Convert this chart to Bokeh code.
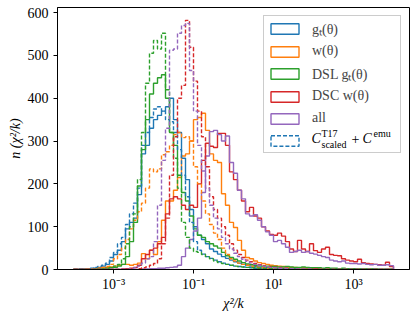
import numpy as np
from bokeh.plotting import figure
from bokeh.models import (Range1d, FixedTicker, SingleIntervalTicker, CustomJSTickFormatter,
                          Legend, LegendItem, Label)
from bokeh.embed import file_html
from bokeh.resources import INLINE

# log10 bin edges of the histograms (80 bins from 1e-4 to 1e4)
LOG_MIN, LOG_MAX, N_BINS = -4, 4, 80

# counts per bin
GT_SOLID = [
    0, 0, 1, 1, 2, 3, 5, 8, 12, 20,
    35, 45, 65, 95, 110, 120, 175, 270, 290, 330,
    350, 360, 370, 380, 400, 350, 320, 260, 210, 140,
    100, 80, 70, 60, 48, 42, 36, 30, 26, 22,
    18, 15, 12, 10, 8, 7, 6, 5, 4, 3,
    3, 2, 2, 1, 1, 1, 0, 0, 0, 0,
    0, 0, 0, 0, 0, 0, 0, 0, 0, 0,
    0, 0, 0, 0, 0, 0, 0, 0, 0, 0,
]
GT_DASH = [
    0, 1, 1, 2, 3, 5, 7, 10, 15, 28,
    40, 60, 75, 105, 130, 155, 190, 290, 320, 355,
    375, 380, 370, 350, 345, 320, 280, 220, 170, 110,
    65, 45, 36, 30, 26, 22, 18, 15, 12, 10,
    8, 7, 6, 5, 4, 3, 3, 2, 2, 1,
    1, 1, 0, 0, 0, 0, 0, 0, 0, 0,
    0, 0, 0, 0, 0, 0, 0, 0, 0, 0,
    0, 0, 0, 0, 0, 0, 0, 0, 0, 0,
]
W_SOLID = [
    0, 0, 0, 0, 1, 2, 3, 4, 5, 6,
    8, 10, 12, 12, 10, 12, 15, 37, 25, 45,
    35, 65, 115, 160, 160, 185, 215, 265, 270, 300,
    350, 355, 365, 325, 270, 255, 250, 177, 150, 110,
    98, 68, 45, 28, 25, 20, 16, 14, 12, 10,
    9, 8, 7, 6, 5, 5, 4, 4, 3, 3,
    3, 2, 2, 1, 1, 1, 1, 0, 0, 0,
    0, 0, 0, 0, 0, 0, 0, 0, 0, 0,
]
W_DASH = [
    0, 0, 0, 1, 1, 2, 3, 5, 7, 12,
    25, 35, 50, 70, 95, 115, 135, 155, 190, 235,
    228, 235, 268, 275, 290, 315, 320, 308, 310, 300,
    240, 200, 160, 130, 105, 85, 70, 50, 35, 25,
    20, 15, 12, 10, 8, 6, 5, 4, 3, 3,
    2, 2, 1, 1, 0, 0, 0, 0, 0, 0,
    0, 0, 0, 0, 0, 0, 0, 0, 0, 0,
    0, 0, 0, 0, 0, 0, 0, 0, 0, 0,
]
DSL_GT_SOLID = [
    0, 0, 0, 0, 0, 1, 1, 2, 3, 4,
    5, 8, 12, 30, 65, 110, 195, 280, 350, 410,
    435, 448, 455, 400, 320, 290, 220, 180, 160, 125,
    95, 80, 75, 65, 60, 55, 50, 40, 32, 28,
    24, 20, 16, 13, 11, 10, 9, 8, 8, 7,
    7, 6, 6, 7, 6, 5, 5, 6, 5, 4,
    4, 4, 3, 4, 3, 3, 2, 3, 2, 2,
    2, 1, 1, 1, 1, 1, 0, 0, 0, 0,
]
DSL_GT_DASH = [
    0, 0, 0, 0, 0, 1, 1, 2, 3, 5,
    8, 12, 25, 60, 100, 130, 210, 320, 435, 505,
    535, 515, 552, 420, 320, 260, 190, 110, 75, 50,
    42, 40, 35, 30, 25, 20, 16, 14, 12, 10,
    8, 7, 6, 5, 4, 4, 3, 3, 2, 2,
    1, 1, 1, 1, 1, 1, 0, 0, 0, 0,
    0, 0, 0, 0, 0, 0, 0, 0, 0, 0,
    0, 0, 0, 0, 0, 0, 0, 0, 0, 0,
]
DSC_W_SOLID = [
    0, 0, 0, 0, 0, 0, 0, 0, 0, 0,
    0, 0, 1, 2, 3, 5, 10, 25, 35, 45,
    50, 60, 75, 130, 165, 170, 165, 150, 140, 150,
    145, 200, 255, 295, 288, 285, 318, 318, 290, 228,
    210, 185, 160, 135, 145, 125, 120, 100, 90, 82,
    80, 85, 78, 65, 48, 42, 68, 48, 42, 60,
    44, 40, 48, 52, 35, 33, 32, 25, 22, 20,
    18, 24, 16, 14, 13, 12, 11, 10, 17, 7,
]
DSC_W_DASH = [
    0, 0, 0, 0, 0, 0, 0, 0, 0, 0,
    0, 0, 0, 0, 0, 0, 2, 4, 6, 10,
    14, 25, 60, 120, 220, 310, 400, 430, 582, 519,
    440, 370, 310, 240, 170, 140, 120, 100, 80, 60,
    45, 35, 28, 22, 18, 14, 11, 9, 7, 6,
    5, 4, 3, 3, 2, 2, 1, 1, 1, 1,
    1, 0, 0, 0, 0, 0, 0, 0, 0, 0,
    0, 0, 0, 0, 0, 0, 0, 0, 0, 0,
]
ALL_SOLID = [
    0, 0, 0, 0, 0, 0, 0, 0, 0, 0,
    0, 0, 0, 0, 0, 0, 0, 1, 1, 2,
    2, 3, 3, 4, 5, 6, 10, 30, 50, 70,
    90, 120, 180, 265, 322, 325, 315, 300, 312, 250,
    225, 185, 165, 130, 125, 128, 115, 100, 88, 80,
    65, 68, 60, 52, 40, 42, 45, 40, 42, 38,
    36, 33, 30, 28, 22, 20, 18, 20, 15, 14,
    14, 13, 14, 12, 11, 12, 10, 10, 11, 9,
]
ALL_DASH = [
    0, 0, 0, 0, 0, 0, 0, 0, 0, 0,
    0, 0, 0, 0, 2, 4, 8, 15, 25, 30,
    65, 150, 255, 330, 512, 515, 552, 570, 575, 465,
    370, 290, 230, 190, 150, 120, 95, 75, 60, 48,
    38, 30, 24, 19, 15, 12, 10, 8, 6, 5,
    4, 3, 3, 2, 2, 1, 1, 1, 1, 1,
    0, 0, 0, 0, 0, 0, 0, 0, 0, 0,
    0, 0, 0, 0, 0, 0, 0, 0, 0, 0,
]

LABELS = ["g\u209c(\u03b8)", "w(\u03b8)", "DSL g\u209c(\u03b8)", "DSC w(\u03b8)", "all"]
COLORS = ["#1f77b4", "#ff7f0e", "#2ca02c", "#d62728", "#9467bd"]
SOLID = [GT_SOLID, W_SOLID, DSL_GT_SOLID, DSC_W_SOLID, ALL_SOLID]
DASHED = [GT_DASH, W_DASH, DSL_GT_DASH, DSC_W_DASH, ALL_DASH]
Y_TICK_STEP = 100
X_TICKS = [1e-3, 1e-1, 1e1, 1e3]

FONT = "Liberation Serif"
LOG_X0, LOG_X1 = -4.4, 4.4
Y_TOP = 612
# frame in pixels (figure coordinates)
FL, FR, FT, FB = 57, 409, 7, 269

edges = np.logspace(LOG_MIN, LOG_MAX, N_BINS + 1)


def outline(counts):
    xs = np.repeat(edges, 2)
    ys = np.concatenate([[0], np.repeat(np.asarray(counts, float), 2), [0]])
    return xs, ys


p = figure(width=416, height=316, x_axis_type="log", output_backend="svg",
           toolbar_location=None, tools="",
           x_range=Range1d(10 ** LOG_X0, 10 ** LOG_X1), y_range=Range1d(0, Y_TOP),
           min_border_left=FL, min_border_right=416 - FR, min_border_top=FT,
           min_border_bottom=316 - FB)
p.xgrid.visible = False
p.ygrid.visible = False
p.outline_line_color = "black"
p.outline_line_alpha = 1
p.outline_line_width = 1
p.background_fill_color = "white"
p.border_fill_color = "white"

for counts, color in zip(SOLID, COLORS):
    xs, ys = outline(counts)
    p.line(xs, ys, line_color=color, line_width=1.4)
for counts, color in zip(DASHED, COLORS):
    xs, ys = outline(counts)
    p.line(xs, ys, line_color=color, line_width=1.4, line_dash="4 2")

p.xaxis.ticker = FixedTicker(ticks=X_TICKS, minor_ticks=[])
p.xaxis.formatter = CustomJSTickFormatter(code="""
const sup = {"-": "\\u207b", "0": "\\u2070", "1": "\\u00b9", "2": "\\u00b2", "3": "\\u00b3",
             "4": "\\u2074", "5": "\\u2075", "6": "\\u2076", "7": "\\u2077", "8": "\\u2078", "9": "\\u2079"};
const e = Math.round(Math.log10(tick));
return "10" + String(e).split("").map(c => sup[c]).join("");
""")
p.yaxis.ticker = SingleIntervalTicker(interval=Y_TICK_STEP, num_minor_ticks=0)

for ax in (p.xaxis, p.yaxis):
    ax.major_tick_out = 4
    ax.major_tick_in = 0
    ax.minor_tick_out = 0
    ax.minor_tick_in = 0
    ax.axis_line_color = "black"
    ax.major_tick_line_color = "black"
    ax.major_label_text_font = FONT
    ax.major_label_text_font_size = "14px"
    ax.major_label_text_color = "black"
    ax.axis_label_text_font = FONT
    ax.axis_label_text_font_size = "14px"
    ax.axis_label_text_font_style = "italic"
    ax.axis_label_text_color = "black"

p.xaxis.axis_label = "\u03c7\u00b2/k"
p.yaxis.axis_label = "n (\u03c7\u00b2/k)"
p.xaxis.major_label_standoff = 3
p.xaxis.axis_label_standoff = 1
p.yaxis.major_label_standoff = 5
p.yaxis.axis_label_standoff = 2

items = []
nan = [float("nan")]
for label, color in zip(LABELS, COLORS):
    r = p.quad(left=nan, right=nan, top=nan, bottom=nan, fill_alpha=0,
               line_color=color, line_width=1.4)
    items.append(LegendItem(label=label, renderers=[r]))
r6 = p.quad(left=nan, right=nan, top=nan, bottom=nan, fill_alpha=0, line_color=COLORS[0],
            line_width=1.4, line_dash="4 2")
items.append(LegendItem(label=" ", renderers=[r6]))

legend = Legend(items=items, location="top_right", glyph_width=35, glyph_height=13,
                label_height=18, label_width=85, spacing=4, padding=3, margin=8,
                label_standoff=10, label_text_font=FONT, label_text_font_size="14px",
                border_line_color="#cccccc", border_line_alpha=1, border_line_width=1,
                background_fill_alpha=0)
p.add_layout(legend)


# text of the last legend entry, C^T17_scaled + C^emu, placed by pixel position
def px_to_x(px):
    return 10 ** (LOG_X0 + (px - FL) * (LOG_X1 - LOG_X0) / (FR - FL))


def py_to_y(py):
    return (FB - py) * Y_TOP / (FB - FT)


parts = [
    ("C", 311, 138, "14px", "italic"),
    ("T17", 321, 133, "10px", "normal"),
    ("scaled", 321, 144, "10px", "normal"),
    ("+", 351, 138, "14px", "normal"),
    ("C", 362, 138, "14px", "italic"),
    ("emu", 373, 133, "10px", "normal"),
]
for txt, px, py, size, style in parts:
    p.add_layout(Label(x=px_to_x(px), y=py_to_y(py), text=txt, text_font=FONT,
                       text_font_size=size, text_font_style=style, text_baseline="middle",
                       text_align="left", text_color="black", level="overlay"))

open("out.html", "w").write(file_html(p, INLINE))
